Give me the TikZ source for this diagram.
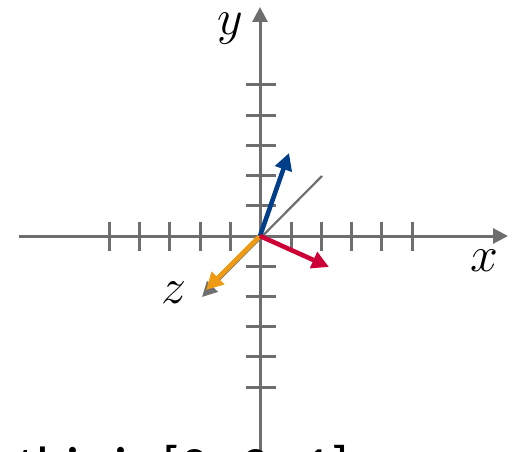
\RequirePackage{fix-cm}
\documentclass[tikz,border=0pt]{standalone}
\usepackage{fontspec}
\newfontfamily\calib{Carlito}
\usetikzlibrary{arrows.meta}
\definecolor{axisgray}{HTML}{6E6E6E}
\definecolor{vblue}{HTML}{003E8A}
\definecolor{vred}{HTML}{CC0036}
\definecolor{vorange}{HTML}{EE9A12}
\begin{document}
\begin{tikzpicture}[x=1pt,y=-1pt,
  axis/.style={draw=axisgray,line width=3pt,-{Triangle[length=15pt,width=15pt]}},
  tickmark/.style={draw=axisgray,line width=3pt},
  zline/.style={draw=axisgray,line width=2.2pt},
  vec/.style={line width=4.6pt,-{Triangle[length=17pt,width=17pt]}},
  lbl/.style={inner sep=0pt,font=\fontsize{50}{50}\selectfont}]
\useasboundingbox (0,0) rectangle (512,452);
\coordinate (O) at (260,236);
\coordinate (xs) at (19,236);
\coordinate (xe) at (508,236);
\coordinate (ys) at (260,452);
\coordinate (ye) at (260,7);
\coordinate (zs) at (322,176);
\coordinate (ze) at (202,297);
\coordinate (bt) at (289,153);
\coordinate (rt) at (329,267);
\coordinate (ot) at (206,290);
% axes
\draw[axis] (xs) -- (xe);
\draw[axis] (ys) -- (ye);
% ticks
\foreach \k in {1,...,5}{
  \draw[tickmark] ([shift={(30.3*\k+0.7,-14.5)}]O) -- ([shift={(30.3*\k+0.7,14.5)}]O);
  \draw[tickmark] ([shift={(-30.3*\k+0.7,-14.5)}]O) -- ([shift={(-30.3*\k+0.7,14.5)}]O);
  \draw[tickmark] ([shift={(-14.5,30.2*\k)}]O) -- ([shift={(16,30.2*\k)}]O);
  \draw[tickmark] ([shift={(-14.5,-30.2*\k)}]O) -- ([shift={(16,-30.2*\k)}]O);
}
% z axis
\draw[zline,-{Triangle[length=15pt,width=15pt]}] (zs) -- (ze);
% vectors
\draw[vec,vorange] (O) -- (ot);
\draw[vec,vblue] (O) -- (bt);
\draw[vec,vred] (O) -- (rt);
% labels
\node[lbl] (xl) at (484,261) {$x$};
\node[lbl] (yl) at (230,29) {$y$};
\node[lbl] (zl) at (174,293) {$z$};
\node[anchor=base west,inner sep=0pt,font=\calib\fontsize{57}{60}\selectfont] (caption) at (17,486) {this is [0,\hspace{18pt}0,\hspace{18pt}1]};
\end{tikzpicture}
\end{document}
